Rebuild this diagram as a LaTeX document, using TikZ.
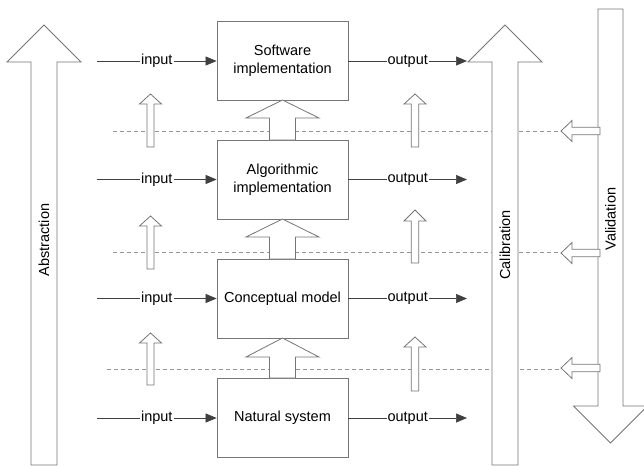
\documentclass[tikz,border=0pt]{standalone}
\usepackage{fontspec}
\setmainfont{Liberation Sans}
\usetikzlibrary{arrows.meta}
\definecolor{edge}{RGB}{118,118,118}
\definecolor{dash}{RGB}{150,150,150}
% up block arrow: #1 center x, #2 tip y, #3 head base y, #4 bottom y, #5 shaft half width, #6 head half width
\newcommand\blockup[6]{%
  \draw[blockarrow] (#1-#5,#4) -- (#1-#5,#3) -- (#1-#6,#3) -- (#1,#2) -- (#1+#6,#3) -- (#1+#5,#3) -- (#1+#5,#4) -- cycle;}
% left block arrow: #1 center y, #2 tip x, #3 head base x, #4 end x, #5 shaft half height, #6 head half height
\newcommand\blockleft[6]{%
  \draw[blockarrow] (#4,#1-#5) -- (#3,#1-#5) -- (#3,#1-#6) -- (#2,#1) -- (#3,#1+#6) -- (#3,#1+#5) -- (#4,#1+#5) -- cycle;}
\begin{document}
\begin{tikzpicture}[x=1pt,y=-1pt,
  every node/.style={font=\fontsize{14.5}{18}\selectfont, inner sep=1pt},
  blockarrow/.style={draw=edge, fill=white, line width=0.8pt, line join=miter},
  boxnode/.style={draw=edge, line width=0.8pt, fill=white, minimum width=131pt, minimum height=79pt, align=center, inner sep=0pt},
  flow/.style={draw=black!75, line width=0.7pt, -{Triangle[length=11pt,width=9pt]}},
  lbl/.style={fill=white, inner sep=1pt},
  sep/.style={draw=dash, dashed, dash pattern=on 4pt off 3pt, line width=0.6pt}]
\useasboundingbox (0,0) rectangle (644,466);
% dashed separators
\draw[sep] (113,131) -- (560,131);
\draw[sep] (113,252.5) -- (560,252.5);
\draw[sep] (107,369) -- (560,369);
% big arrows
\blockup{44}{25}{62}{465}{13}{37}
\node[rotate=90] (abs) at (44,240) {Abstraction};
\blockup{505}{25}{62}{465}{13}{37}
\node[rotate=90] (cal) at (505,245) {Calibration};
\draw[blockarrow] (598,9) -- (623,9) -- (623,406) -- (647.5,406) -- (610.5,443) -- (573.5,406) -- (598,406) -- cycle;
\node[rotate=90] (val) at (610.5,219) {Validation};
% small left arrows from validation
\blockleft{131}{561}{572}{600}{3.8}{10.5}
\blockleft{253}{561}{572}{600}{3.8}{10.5}
\blockleft{368}{561}{572}{600}{3.8}{10.5}
% boxes
\node[boxnode] (sw) at (282.5,61) {Software\\implementation};
\node[boxnode] (alg) at (282.5,179.5) {Algorithmic\\implementation};
\node[boxnode] (con) at (282.5,298.5) {Conceptual model};
\node[boxnode] (nat) at (282.5,418) {Natural system};
% block arrows between boxes
\blockup{282.5}{100}{118}{140}{13}{36.5}
\blockup{282.5}{219}{237}{259}{13}{36.5}
\blockup{282.5}{338}{357}{378}{13}{36.5}
% small up arrows
\blockup{150.5}{94}{104}{147}{3.5}{11}
\blockup{150.5}{216}{226}{269}{3.5}{11}
\blockup{150.5}{333}{343}{385}{3.5}{11}
\blockup{415}{94}{104}{147}{3.8}{11}
\blockup{415}{210}{221}{263}{3.8}{11}
\blockup{415}{337}{347}{391}{3.8}{11}
% inputs and outputs
\foreach \b/\y in {sw/61, alg/179.5, con/298.5, nat/418}{
  \coordinate (in-\b) at (97,\y);
  \coordinate (out-\b) at (467,\y);
  \draw[flow] (in-\b) -- node[lbl] {input} (\b.west);
  \draw[flow] (\b.east) -- node[lbl] {output} (out-\b);
}
\end{tikzpicture}
\end{document}
